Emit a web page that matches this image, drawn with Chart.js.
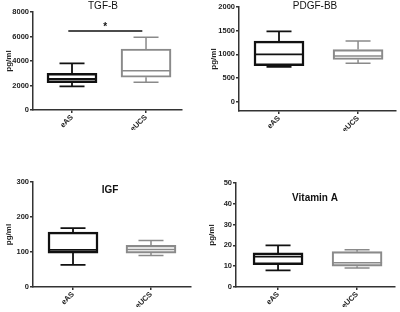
<!DOCTYPE html>
<html><head><meta charset="utf-8">
<script src="https://cdn.jsdelivr.net/npm/chart.js@4.4.0/dist/chart.umd.min.js"></script>
<style>
html,body{margin:0;padding:0;background:#fff;}
#wrap{position:relative;width:400px;height:312px;background:#fff;}
canvas{position:absolute;}
</style></head><body>
<div id="wrap">
<canvas id="c1" width="200" height="156" style="left:0;top:0"></canvas>
<canvas id="c2" width="200" height="156" style="left:200px;top:0"></canvas>
<canvas id="c3" width="200" height="156" style="left:0;top:156px"></canvas>
<canvas id="c4" width="200" height="156" style="left:200px;top:156px"></canvas>
</div>
<script>
const categories = ['eAS', 'eUCS'];

const tgfMin = [1930, 2260];
const tgfQ1  = [2230, 2670];
const tgfMed = [2530, 3210];
const tgfQ3  = [3000, 4980];
const tgfMax = [3810, 5935];
const tgfTicks = [0, 2000, 4000, 6000, 8000];

const pdgfMin = [735, 814];
const pdgfQ1  = [763, 890];
const pdgfMed = [1000, 965];
const pdgfQ3  = [1280, 1100];
const pdgfMax = [1483, 1280];
const pdgfTicks = [0, 500, 1000, 1500, 2000];

const igfMin = [63, 90];
const igfQ1  = [97, 97];
const igfMed = [106, 107];
const igfQ3  = [157, 119];
const igfMax = [168, 133];
const igfTicks = [0, 100, 200, 300];

const vitMin = [8.0, 9.1];
const vitQ1  = [10.7, 10.0];
const vitMed = [14.6, 11.6];
const vitQ3  = [16.4, 17.0];
const vitMax = [20, 17.9];
const vitTicks = [0, 10, 20, 30, 40, 50];

const tgfSig = { from: 0.95, to: 1.95, y: 6450, star: '*' };

const FONT = "'Liberation Sans', Arial, sans-serif";
const boxColors = ['#111111', '#8a8a8a'];
const boxWidths = [1.8, 1.5];

function makeChart(id, p) {
  const ctxEl = document.getElementById(id);
  const data = categories.map((c, i) => ({ x: i + 1, y: [p.q1[i], p.q3[i]] }));
  const extras = {
    id: 'boxExtras',
    afterDatasetsDraw(chart) {
      const ctx = chart.ctx;
      const xs = chart.scales.x, ys = chart.scales.y;
      const meta = chart.getDatasetMeta(0);
      ctx.save();
      meta.data.forEach((bar, i) => {
        const x = bar.x, w = bar.width;
        ctx.strokeStyle = boxColors[i];
        ctx.lineWidth = boxWidths[i];
        ctx.lineCap = 'butt';
        const yMed = ys.getPixelForValue(p.med[i]);
        const yQ1 = ys.getPixelForValue(p.q1[i]);
        const yQ3 = ys.getPixelForValue(p.q3[i]);
        const yMin = ys.getPixelForValue(p.min[i]);
        const yMax = ys.getPixelForValue(p.max[i]);
        const cap = w * 0.25;
        ctx.beginPath();
        ctx.moveTo(x - w / 2, yMed); ctx.lineTo(x + w / 2, yMed);
        ctx.moveTo(x, yQ3); ctx.lineTo(x, yMax);
        ctx.moveTo(x - cap, yMax); ctx.lineTo(x + cap, yMax);
        ctx.moveTo(x, yQ1); ctx.lineTo(x, yMin);
        ctx.moveTo(x - cap, yMin); ctx.lineTo(x + cap, yMin);
        ctx.stroke();
      });
      if (p.sig) {
        const y = ys.getPixelForValue(p.sig.y);
        ctx.strokeStyle = '#111';
        ctx.lineWidth = 1.6;
        ctx.beginPath();
        ctx.moveTo(xs.getPixelForValue(p.sig.from), y);
        ctx.lineTo(xs.getPixelForValue(p.sig.to), y);
        ctx.stroke();
        ctx.fillStyle = '#111';
        ctx.font = 'bold 10px ' + FONT;
        ctx.textAlign = 'center';
        ctx.textBaseline = 'middle';
        ctx.fillText(p.sig.star, xs.getPixelForValue((p.sig.from + p.sig.to) / 2), y - 4);
      }
      ctx.fillStyle = '#111';
      ctx.font = p.titleWeight + ' 10px ' + FONT;
      ctx.textAlign = 'center';
      ctx.textBaseline = 'middle';
      ctx.fillText(p.title, p.titlePos[0], p.titlePos[1]);
      ctx.restore();
    }
  };
  const tickFont = { family: FONT, size: 7.5, weight: 'bold' };
  return new Chart(ctxEl, {
    type: 'bar',
    data: {
      datasets: [{
        data: data,
        backgroundColor: 'rgba(255,255,255,0)',
        borderColor: boxColors,
        borderWidth: boxWidths,
        borderSkipped: false,
        barThickness: 50
      }]
    },
    options: {
      responsive: false,
      animation: false,
      layout: { padding: p.pad },
      plugins: { legend: { display: false }, tooltip: { enabled: false }, title: { display: false } },
      scales: {
        x: {
          type: 'linear', min: p.xr[0], max: p.xr[1], offset: false,
          afterBuildTicks: s => { s.ticks = categories.map((c, i) => ({ value: i + 1 })); },
          afterFit: s => { s.height = 20; },
          ticks: { callback: v => categories[v - 1], minRotation: 45, maxRotation: 45, autoSkip: false, font: tickFont, color: '#222', padding: 0 },
          grid: { drawOnChartArea: false, offset: false, tickLength: 3, color: '#333', lineWidth: 1.5 },
          border: { color: '#333', width: 1.5 }
        },
        y: {
          min: p.yr[0], max: p.yr[1],
          afterBuildTicks: s => { s.ticks = p.ticks.map(v => ({ value: v })); },
          afterFit: s => { s.width = p.yW; },
          ticks: { callback: v => String(v), font: tickFont, color: '#222', padding: 1 },
          grid: { drawOnChartArea: false, tickLength: 3, color: '#333', lineWidth: 1.5 },
          border: { color: '#333', width: 1.5 },
          title: { display: true, text: 'pg/ml', font: { family: FONT, size: 8, weight: 'bold' }, color: '#222', padding: { top: 4, bottom: 2 } }
        }
      }
    },
    plugins: [extras]
  });
}

makeChart('c1', {
  min: tgfMin, q1: tgfQ1, med: tgfMed, q3: tgfQ3, max: tgfMax, ticks: tgfTicks,
  yr: [0, 8000], xr: [0.473, 2.486], yW: 33,
  pad: { left: 0, right: 18, top: 12, bottom: 26 },
  title: 'TGF-B', titleWeight: 'normal', titlePos: [103, 6], sig: tgfSig
});
makeChart('c2', {
  min: pdgfMin, q1: pdgfQ1, med: pdgfMed, q3: pdgfQ3, max: pdgfMax, ticks: pdgfTicks,
  yr: [-197, 2000], xr: [0.494, 2.48], yW: 34,
  pad: { left: 5, right: 4, top: 7, bottom: 25 },
  title: 'PDGF-BB', titleWeight: 'normal', titlePos: [115, 6]
});
makeChart('c3', {
  min: igfMin, q1: igfQ1, med: igfMed, q3: igfQ3, max: igfMax, ticks: igfTicks,
  yr: [0, 300], xr: [0.487, 2.513], yW: 33,
  pad: { left: 0, right: 9, top: 26, bottom: 5 },
  title: 'IGF', titleWeight: 'bold', titlePos: [110, 34]
});
makeChart('c4', {
  min: vitMin, q1: vitQ1, med: vitMed, q3: vitQ3, max: vitMax, ticks: vitTicks,
  yr: [0, 50], xr: [0.468, 2.48], yW: 33,
  pad: { left: 3, right: 5, top: 27, bottom: 5 },
  title: 'Vitamin A', titleWeight: 'bold', titlePos: [115, 42]
});
</script>
</body></html>
